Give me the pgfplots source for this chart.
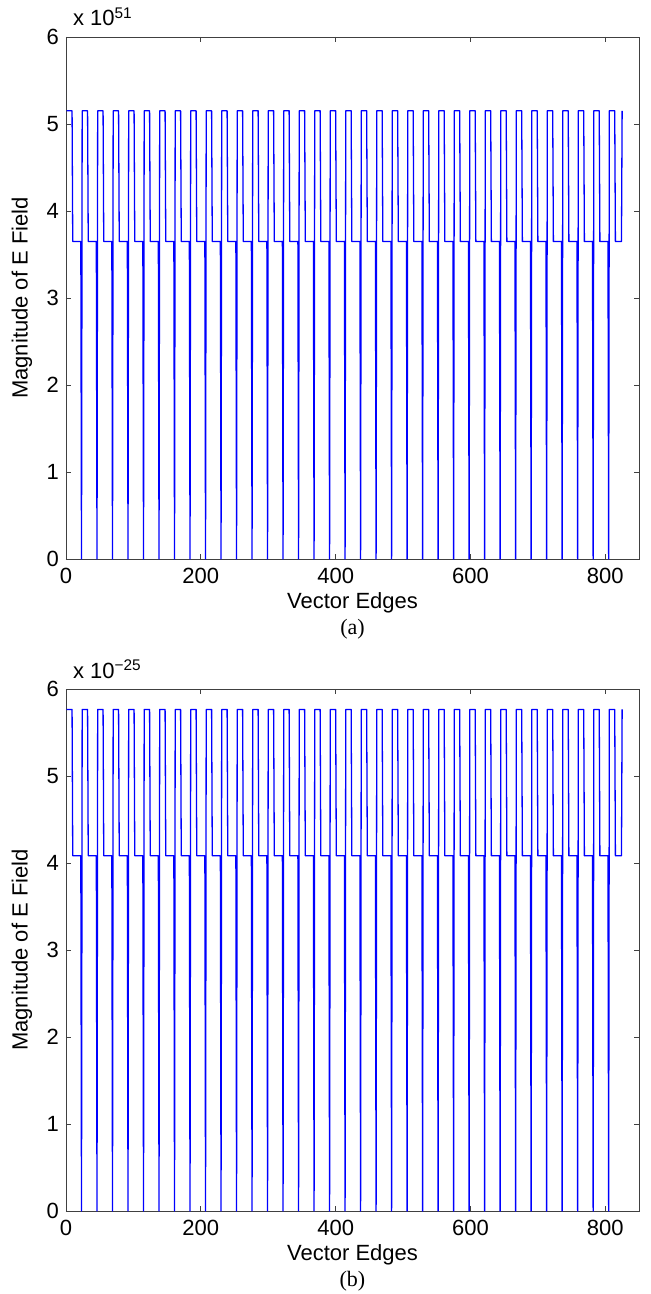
\documentclass[border=0pt]{standalone}
\usepackage{fontspec}
\setmainfont{Liberation Sans}
\newfontfamily\capfont{Liberation Serif}
\usepackage{pgfplots}
\usepackage{pgfplotstable}
\pgfplotsset{compat=1.18}

% corner points of the edge-field trace; ya in 1e51, yb in 1e-25
\pgfplotstableread{
x ya yb
1 5.152 5.765
9 5.152 5.765
10 3.649 4.083
22 3.649 4.083
23 0 0
24 5.152 5.765
32 5.152 5.765
33 3.649 4.083
45 3.649 4.083
46 0 0
47 5.152 5.765
55 5.152 5.765
56 3.649 4.083
68 3.649 4.083
69 0 0
70 5.152 5.765
78 5.152 5.765
79 3.649 4.083
91 3.649 4.083
92 0 0
93 5.152 5.765
101 5.152 5.765
102 3.649 4.083
114 3.649 4.083
115 0 0
116 5.152 5.765
124 5.152 5.765
125 3.649 4.083
137 3.649 4.083
138 0 0
139 5.152 5.765
147 5.152 5.765
148 3.649 4.083
160 3.649 4.083
161 0 0
162 5.152 5.765
170 5.152 5.765
171 3.649 4.083
183 3.649 4.083
184 0 0
185 5.152 5.765
193 5.152 5.765
194 3.649 4.083
206 3.649 4.083
207 0 0
208 5.152 5.765
216 5.152 5.765
217 3.649 4.083
229 3.649 4.083
230 0 0
231 5.152 5.765
239 5.152 5.765
240 3.649 4.083
252 3.649 4.083
253 0 0
254 5.152 5.765
262 5.152 5.765
263 3.649 4.083
275 3.649 4.083
276 0 0
277 5.152 5.765
285 5.152 5.765
286 3.649 4.083
298 3.649 4.083
299 0 0
300 5.152 5.765
308 5.152 5.765
309 3.649 4.083
321 3.649 4.083
322 0 0
323 5.152 5.765
331 5.152 5.765
332 3.649 4.083
344 3.649 4.083
345 0 0
346 5.152 5.765
354 5.152 5.765
355 3.649 4.083
367 3.649 4.083
368 0 0
369 5.152 5.765
377 5.152 5.765
378 3.649 4.083
390 3.649 4.083
391 0 0
392 5.152 5.765
400 5.152 5.765
401 3.649 4.083
413 3.649 4.083
414 0 0
415 5.152 5.765
423 5.152 5.765
424 3.649 4.083
436 3.649 4.083
437 0 0
438 5.152 5.765
446 5.152 5.765
447 3.649 4.083
459 3.649 4.083
460 0 0
461 5.152 5.765
469 5.152 5.765
470 3.649 4.083
482 3.649 4.083
483 0 0
484 5.152 5.765
492 5.152 5.765
493 3.649 4.083
505 3.649 4.083
506 0 0
507 5.152 5.765
515 5.152 5.765
516 3.649 4.083
528 3.649 4.083
529 0 0
530 5.152 5.765
538 5.152 5.765
539 3.649 4.083
551 3.649 4.083
552 0 0
553 5.152 5.765
561 5.152 5.765
562 3.649 4.083
574 3.649 4.083
575 0 0
576 5.152 5.765
584 5.152 5.765
585 3.649 4.083
597 3.649 4.083
598 0 0
599 5.152 5.765
607 5.152 5.765
608 3.649 4.083
620 3.649 4.083
621 0 0
622 5.152 5.765
630 5.152 5.765
631 3.649 4.083
643 3.649 4.083
644 0 0
645 5.152 5.765
653 5.152 5.765
654 3.649 4.083
666 3.649 4.083
667 0 0
668 5.152 5.765
676 5.152 5.765
677 3.649 4.083
689 3.649 4.083
690 0 0
691 5.152 5.765
699 5.152 5.765
700 3.649 4.083
712 3.649 4.083
713 0 0
714 5.152 5.765
722 5.152 5.765
723 3.649 4.083
735 3.649 4.083
736 0 0
737 5.152 5.765
745 5.152 5.765
746 3.649 4.083
758 3.649 4.083
759 0 0
760 5.152 5.765
768 5.152 5.765
769 3.649 4.083
781 3.649 4.083
782 0 0
783 5.152 5.765
791 5.152 5.765
792 3.649 4.083
804 3.649 4.083
805 0 0
806 5.152 5.765
814 5.152 5.765
815 3.649 4.083
824 3.649 4.083
825 5.152 5.765
}\edges

\pgfplotsset{efield/.style={
  width=286.5pt, height=261pt, scale only axis,
  xmin=0, xmax=850, ymin=0, ymax=6,
  xtick={0,200,...,800}, ytick={0,1,...,6},
  tick align=inside, tick pos=both,
  major tick length=2.7pt,
  axis line style={black!75, line width=0.4pt},
  every tick/.style={black!75, line width=0.4pt},
  tick label style={font=\fontsize{11}{13}\selectfont},
  xticklabel style={yshift=-1.2pt},
  label style={font=\fontsize{11}{13}\selectfont},
  /pgf/number format/assume math mode=true,
  xlabel={Vector Edges}, ylabel={Magnitude of E Field},
  xlabel style={at={(axis description cs:0.5,-0.083)}, anchor=center},
  ylabel style={at={(axis description cs:-0.077,0.5)}, anchor=center},
  clip=false,
}}

\begin{document}
\begin{tikzpicture}
\useasboundingbox (-33pt,-367.5pt) rectangle (292pt,279.5pt);

\begin{axis}[efield, at={(0,0)}, anchor=south west]
\addplot[blue, line width=0.65pt, line join=round] table[x=x, y=ya] {\edges};
\node[anchor=base west, font=\fontsize{11}{13}\selectfont]
  at (rel axis cs:0,1) [yshift=5.5pt] {x 10\textsuperscript{51}};
\node[font=\capfont\fontsize{11}{13}\selectfont]
  at (rel axis cs:0.5,0) [yshift=-35pt] {(a)};
\end{axis}

\begin{axis}[efield, at={(0,-326pt)}, anchor=south west]
\addplot[blue, line width=0.65pt, line join=round] table[x=x, y=yb] {\edges};
\node[anchor=base west, font=\fontsize{11}{13}\selectfont]
  at (rel axis cs:0,1) [yshift=5.5pt] {x 10\textsuperscript{−25}};
\node[font=\capfont\fontsize{11}{13}\selectfont]
  at (rel axis cs:0.5,0) [yshift=-35pt] {(b)};
\end{axis}
\end{tikzpicture}
\end{document}
